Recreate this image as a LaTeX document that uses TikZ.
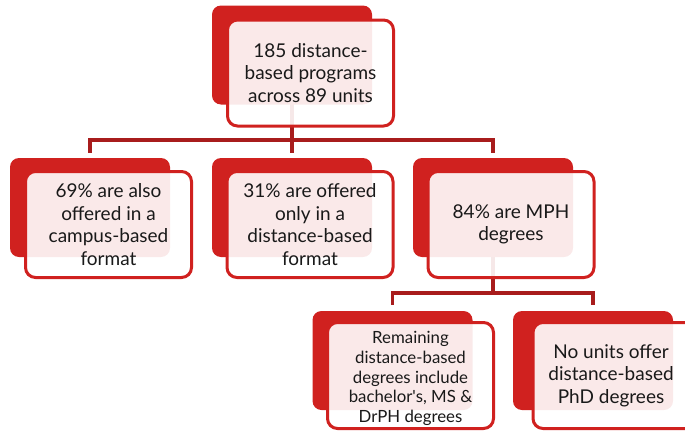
\documentclass[tikz,border=0pt]{standalone}
\usepackage{fontspec}
\setmainfont{Lato}
\usetikzlibrary{backgrounds}
\definecolor{boxred}{RGB}{208,33,31}
\definecolor{linered}{RGB}{168,28,28}
\definecolor{txt}{RGB}{25,25,25}
\begin{document}
\begin{tikzpicture}[x=1pt,y=-1pt,
  backbox/.style={rectangle, rounded corners=9pt, fill=boxred, minimum width=160pt, minimum height=99pt, inner sep=0pt},
  frontbox/.style={rectangle, rounded corners=10pt, draw=boxred, line width=3pt, fill=white, fill opacity=0.9, text opacity=1, text=txt, minimum width=166pt, minimum height=106pt, align=center, font=\fontsize{19}{22.5}\selectfont, inner sep=0pt},
  conn/.style={draw=linered, line width=3.5pt}]
\useasboundingbox (0,0) rectangle (685,431);
\clip (0,0) rectangle (685,431);
% back boxes
\node[backbox] (b0) at (292,55) {};
\node[backbox] (b1) at (90,207.5) {};
\node[backbox] (b2) at (292,207.5) {};
\node[backbox] (b3) at (493,207.5) {};
\node[backbox] (b4) at (392.5,360.5) {};
\node[backbox] (b5) at (593,360.5) {};
% front boxes
\node[frontbox] (f0) at (310.5,73) {185 distance-\\based programs\\across 89 units};
\node[frontbox] (f1) at (108.5,224.5) {69\% are also\\offered in a\\campus-based\\format};
\node[frontbox] (f2) at (310,224.5) {31\% are offered\\only in a\\distance-based\\format};
\node[frontbox] (f3) at (511,224.5) {84\% are MPH\\degrees};
\node[frontbox] (f4) at (410.5,375.5) {};
\node[text=txt, align=center, font=\fontsize{16.8}{19.7}\selectfont] (t4) at (410.5,378.5) {Remaining\\distance-based\\degrees include\\bachelor\textquotesingle s, MS \&\\DrPH degrees};
\node[frontbox] (f5) at (616,375.5) {};
\node[text=txt, align=center, font=\fontsize{19}{22.5}\selectfont] (t5) at (611,375.5) {No units offer\\distance-based\\PhD degrees};
% connectors
\begin{pgfonlayer}{background}
\draw[conn] (b0.center) -- ([yshift=5pt]b2.north);
\draw[conn] ([yshift=5pt]b1.north) |- (b3.north |- 0,140) -- ([yshift=5pt]b3.north);
\draw[conn] (b3.center) -- (b3.center |- 0,293);
\draw[conn] ([yshift=6pt]b4.north) |- (b5.north |- 0,293) -- ([yshift=6pt]b5.north);
\end{pgfonlayer}
\end{tikzpicture}
\end{document}
